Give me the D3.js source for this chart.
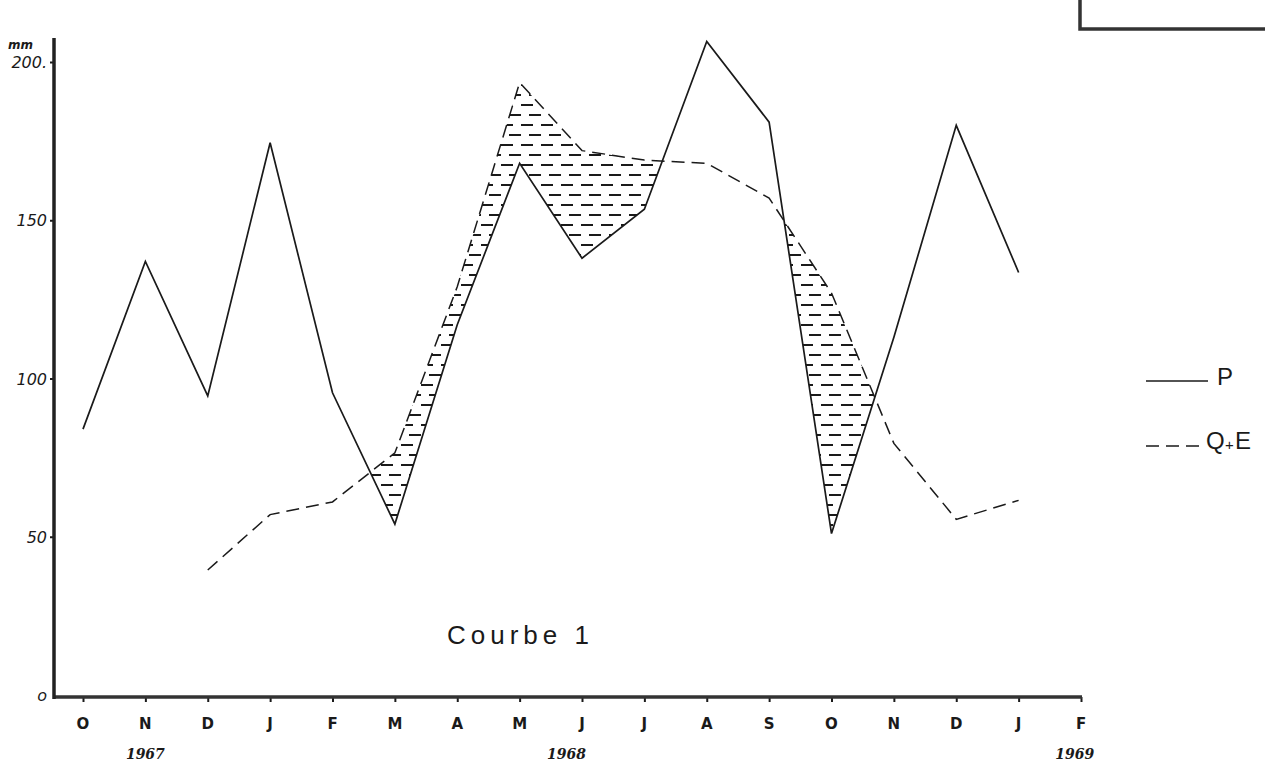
<!DOCTYPE html>
<html>
<head>
<meta charset="utf-8">
<script src="https://cdn.jsdelivr.net/npm/d3@7/dist/d3.min.js"></script>
<style>
  html, body { margin: 0; padding: 0; background: #fff; }
  svg { display: block; }
</style>
</head>
<body>
<script>
// ---- Data ----
const months = ["O","N","D","J","F","M","A","M","J","J","A","S","O","N","D","J","F"];
const pValues  = [84, 137, 94.5, 174.5, 95.5, 54, 117, 168, 138, 153.5, 206.5, 181, 51, 113, 180, 133.5];
const qeValues = [null, null, 39.5, 57, 61, 76.5, 129, 193.5, 172, 169, 168, 157, 127, 79.5, 55.5, 61.5];
const yTicks = [0, 50, 100, 150, 200];
const yTickLabels = ["o", "50", "100", "150", "200."];
const yearLabels = ["1967", "1968", "1969"];
const yearAt = [1, 7.75, 15.9];
const legendLabels = ["P", "Q+E"];
const title = "Courbe 1";
const unit = "mm";

// ---- Layout ----
const W = 1272, H = 772;
const svg = d3.select("body").append("svg").attr("width", W).attr("height", H);

const x = d3.scaleLinear().domain([0, months.length - 1]).range([83, 1081]);
const y = d3.scaleLinear().domain([0, 200]).range([695, 62]);
const ink = "#1a1a1a";

// hatch pattern (horizontal dashes)
const defs = svg.append("defs");
const pat = defs.append("pattern").attr("id", "hatch").attr("patternUnits", "userSpaceOnUse")
  .attr("width", 20).attr("height", 20);
pat.append("line").attr("x1", 1).attr("x2", 13).attr("y1", 5).attr("y2", 5)
  .attr("stroke", ink).attr("stroke-width", 2);
pat.append("line").attr("x1", 9).attr("x2", 21).attr("y1", 15).attr("y2", 15)
  .attr("stroke", ink).attr("stroke-width", 2);
pat.append("line").attr("x1", -11).attr("x2", 1).attr("y1", 15).attr("y2", 15)
  .attr("stroke", ink).attr("stroke-width", 2);

const pData = pValues.map((v, i) => ({ i, v }));
const qData = qeValues.map((v, i) => ({ i, v })).filter(d => d.v !== null);

// clip: region below Q+E line
const qFirst = qData[0].i, qLast = qData[qData.length - 1].i;
const areaBelowQ = d3.area().x(d => x(d.i)).y0(y(0)).y1(d => y(d.v));
defs.append("clipPath").attr("id", "belowQ").append("path").attr("d", areaBelowQ(qData));

// area above P line (within Q+E domain), clipped to below Q+E
const pInQ = pData.filter(d => d.i >= qFirst && d.i <= qLast);
const areaAboveP = d3.area().x(d => x(d.i)).y0(0).y1(d => y(d.v));
svg.append("path").attr("d", areaAboveP(pInQ))
  .attr("fill", "url(#hatch)").attr("clip-path", "url(#belowQ)");

// ---- Axes ----
const xAxis = d3.axisBottom(x).tickValues(d3.range(months.length)).tickSize(5).tickFormat(() => "");
const gx = svg.append("g").attr("transform", "translate(0,697)").call(xAxis);
gx.select(".domain").remove();
gx.selectAll(".tick line").attr("stroke", ink).attr("stroke-width", 2);
svg.append("line").attr("x1", 53).attr("x2", x(months.length - 1) + 1).attr("y1", 697).attr("y2", 697)
  .attr("stroke", "#333").attr("stroke-width", 3.5);

const yAxis = d3.axisLeft(y).tickValues(yTicks.slice(1)).tickSize(4).tickFormat(() => "");
const gy = svg.append("g").attr("transform", "translate(54,0)").call(yAxis);
gy.select(".domain").remove();
gy.selectAll(".tick line").attr("stroke", ink).attr("stroke-width", 2);
svg.append("line").attr("x1", 54).attr("x2", 54).attr("y1", 38).attr("y2", 699)
  .attr("stroke", "#222").attr("stroke-width", 3.5);

// y tick labels
svg.selectAll(".ylab").data(yTicks).enter().append("text")
  .attr("x", 47).attr("y", d => y(d) + 6)
  .attr("text-anchor", "end")
  .attr("font-family", "DejaVu Sans, sans-serif").attr("font-style", "italic")
  .attr("font-size", 16).attr("fill", ink)
  .text((d, i) => yTickLabels[i]);
svg.append("text").attr("x", 8).attr("y", 49)
  .attr("font-family", "DejaVu Sans, sans-serif").attr("font-style", "italic")
  .attr("font-size", 12).attr("font-weight", "bold").attr("fill", ink).text(unit);

// month labels
svg.selectAll(".mlab").data(months).enter().append("text")
  .attr("x", (d, i) => x(i)).attr("y", 729)
  .attr("text-anchor", "middle")
  .attr("font-family", "DejaVu Sans, sans-serif").attr("font-weight", "bold")
  .attr("font-size", 15).attr("fill", ink).text(d => d);

// year labels
svg.selectAll(".ylab2").data(yearLabels).enter().append("text")
  .attr("x", (d, i) => x(yearAt[i])).attr("y", 759)
  .attr("text-anchor", "middle")
  .attr("font-family", "DejaVu Serif, serif").attr("font-style", "italic").attr("font-weight", "bold")
  .attr("font-size", 14).attr("fill", ink).text(d => d);

// ---- Lines ----
const line = d3.line().x(d => x(d.i)).y(d => y(d.v));
svg.append("path").attr("d", line(pData)).attr("fill", "none")
  .attr("stroke", ink).attr("stroke-width", 1.7).attr("stroke-linejoin", "miter");
svg.append("path").attr("d", line(qData)).attr("fill", "none")
  .attr("stroke", ink).attr("stroke-width", 1.5).attr("stroke-dasharray", "13,7");

// ---- Title ----
svg.append("text").attr("x", 447).attr("y", 644)
  .attr("font-family", "Liberation Sans, Arial, sans-serif")
  .attr("font-size", 26).attr("letter-spacing", 5).attr("fill", ink).text(title);

// ---- Legend ----
svg.append("line").attr("x1", 1146).attr("x2", 1208).attr("y1", 381).attr("y2", 381)
  .attr("stroke", ink).attr("stroke-width", 1.6);
svg.append("text").attr("x", 1217).attr("y", 385)
  .attr("font-family", "Liberation Sans, Arial, sans-serif")
  .attr("font-size", 24).attr("fill", ink).text(legendLabels[0]);
svg.append("line").attr("x1", 1146).attr("x2", 1203).attr("y1", 446).attr("y2", 446)
  .attr("stroke", ink).attr("stroke-width", 1.6).attr("stroke-dasharray", "13,7");
const qeParts = [legendLabels[1].slice(0, 1), legendLabels[1].slice(1, 2), legendLabels[1].slice(2)];
svg.append("text").attr("x", 1206).attr("y", 449)
  .attr("font-family", "Liberation Sans, Arial, sans-serif")
  .attr("font-size", 24).attr("fill", ink).text(qeParts[0]);
svg.append("text").attr("x", 1225).attr("y", 450)
  .attr("font-family", "Liberation Sans, Arial, sans-serif")
  .attr("font-size", 15).attr("fill", ink).text(qeParts[1]);
svg.append("text").attr("x", 1235).attr("y", 449)
  .attr("font-family", "Liberation Sans, Arial, sans-serif")
  .attr("font-size", 24).attr("fill", ink).text(qeParts[2]);

// ---- Top right box fragment ----
svg.append("path").attr("d", "M1080,0 L1080,29 L1265,29")
  .attr("fill", "none").attr("stroke", "#333").attr("stroke-width", 3.5);
</script>
</body>
</html>
